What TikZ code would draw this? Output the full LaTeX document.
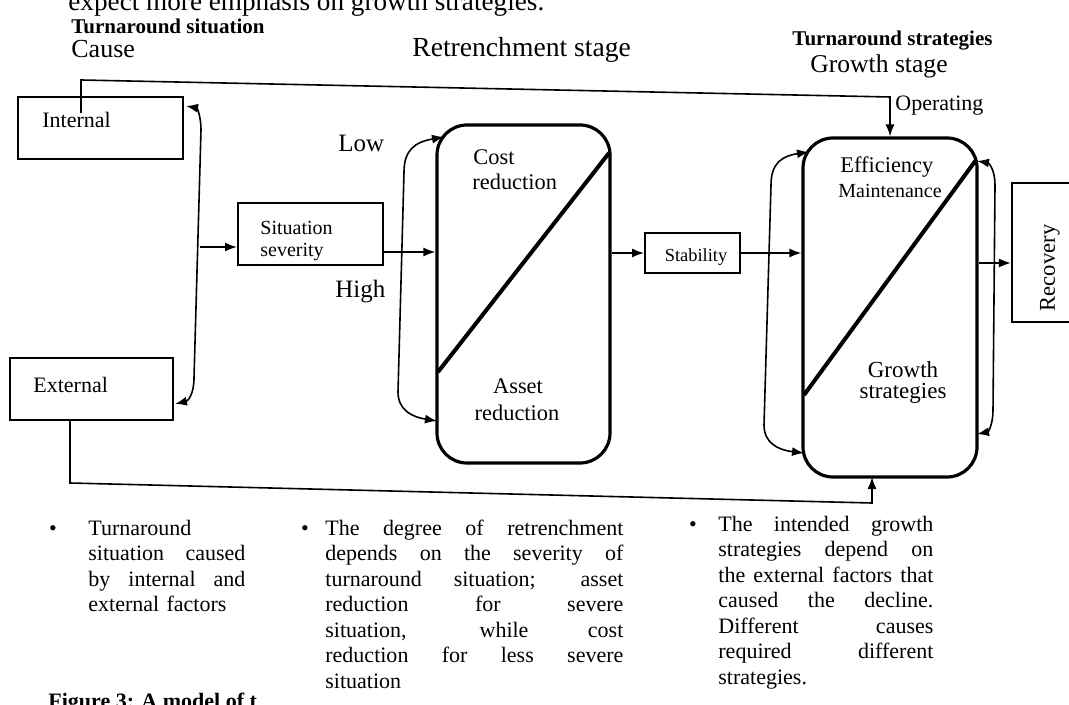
\documentclass[tikz,border=0pt]{standalone}
\usepackage{fontspec}
\setmainfont{Liberation Serif}
\usetikzlibrary{arrows.meta}
\newcommand\jline[1]{{\spaceskip=0pt\xspaceskip=0pt\makebox[\hsize][s]{#1}}}
\begin{document}
\begin{tikzpicture}[x=0.5pt,y=-0.5pt,
  box/.style={draw, line width=0.8pt, inner sep=0pt},
  rbox/.style={draw, line width=1.6pt, rounded corners=15pt, inner sep=0pt},
  lbl/.style={inner sep=0pt, anchor=base west},
  clbl/.style={inner sep=0pt, anchor=base},
  fmid/.style={font=\fontsize{11.2}{13}\selectfont},
  fhead/.style={font=\bfseries\fontsize{10.5}{12}\selectfont},
  para/.style={inner sep=0pt, anchor=base west, align=left, font=\fontsize{11}{12.75}\selectfont},
  conn/.style={line width=0.8pt},
  arr/.style={conn, -{Latex[length=6pt,width=4.5pt]}},
  darr/.style={conn, {Latex[length=6pt,width=4.5pt]}-{Latex[length=6pt,width=4.5pt]}},
  diag/.style={line width=2pt}]
\useasboundingbox (0,0) rectangle (1069,705);
\clip (0,0) rectangle (1069,705);

% header texts
\node[lbl, font=\fontsize{13.6}{15}\selectfont] (intro) at (68,11) {expect more emphasis on growth strategies.};
\node[lbl, fhead] (tsit) at (71,34) {Turnaround situation};
\node[lbl, font=\fontsize{13}{15}\selectfont] (cause) at (71,58) {Cause};
\node[lbl, font=\fontsize{13.8}{15}\selectfont] (retst) at (412,57) {Retrenchment stage};
\node[lbl, fhead] (tstr) at (792,46) {Turnaround strategies};
\node[lbl, font=\fontsize{12.8}{15}\selectfont] (grst) at (810,73) {Growth stage};
\node[lbl, font=\fontsize{11}{13}\selectfont] (oper) at (895,111) {Operating};
\node[lbl, font=\fontsize{12.5}{14}\selectfont] (low) at (338,152) {Low};
\node[lbl, font=\fontsize{12.5}{14}\selectfont] (high) at (335,298) {High};

% boxes
\node[box, minimum width=82.5pt, minimum height=31pt] (int) at (100.5,128) {};
\node[box, line width=1.1pt, minimum width=81.5pt, minimum height=31pt] (ext) at (91.5,389) {};
\node[box, line width=1pt, minimum width=72.5pt, minimum height=31pt] (sit) at (310.5,234) {};
\node[rbox, minimum width=86.5pt, minimum height=169pt] (ret) at (523.5,294) {};
\node[box, line width=1pt, minimum width=47.5pt, minimum height=20pt] (stab) at (692.5,253) {};
\node[rbox, minimum width=87pt, minimum height=169.5pt] (gro) at (890,307.5) {};
\node[box, line width=1.1pt, minimum width=44pt, minimum height=69.5pt] (rec) at (1056,252.5) {};

% box texts
\node[lbl, font=\fontsize{11}{13}\selectfont] (tint) at (42,128) {Internal};
\node[lbl, font=\fontsize{11}{13}\selectfont] (text) at (33,392) {External};
\node[lbl, font=\fontsize{10}{12}\selectfont] (tsit1) at (260,235) {Situation};
\node[lbl, font=\fontsize{10}{12}\selectfont] (tsit2) at (260,257) {severity};
\node[lbl, fmid] (cost1) at (473,165) {Cost};
\node[lbl, fmid] (cost2) at (472,190) {reduction};
\node[clbl, fmid] (ass1) at (518,393) {Asset};
\node[clbl, fmid] (ass2) at (517,420) {reduction};
\node[clbl, font=\fontsize{9.2}{11}\selectfont] (tstab) at (696,262) {Stability};
\node[lbl, font=\fontsize{11.2}{13}\selectfont] (eff1) at (840,173) {Efficiency};
\node[lbl, font=\fontsize{10}{12}\selectfont] (eff2) at (838,198) {Maintenance};
\node[clbl, font=\fontsize{11.5}{13}\selectfont] (gs1) at (903,377) {Growth};
\node[clbl, font=\fontsize{11.5}{13}\selectfont] (gs2) at (903,398) {strategies};
\node[inner sep=0pt, rotate=90, font=\fontsize{11.3}{13}\selectfont] (trec) at (1050,268) {Recovery};

% diagonals
\draw[diag] (438,372) -- (609,153);
\draw[diag] (804,395) -- (976,160);

% connectors
\coordinate (c1) at (81,113);
\draw[arr] (c1) -- (81,80) -- (890,97) -- (gro.north);
\coordinate (c2) at (70,420);
\draw[arr] (c2) -- (70,483) -- (872,503) -- (872,477);
\draw[darr] (186,106) .. controls (197,108) and (201,116) .. (201,130) -- (194,378) .. controls (194,394) and (188,401) .. (175,404);
\draw[arr] (200,247) -- (sit.west |- 0,247);
\draw[arr] (sit.east |- 0,252) -- (ret.west |- 0,252);
\draw[darr] (444,137) .. controls (415,142) and (404,150) .. (404,172) -- (398,392) .. controls (398,410) and (412,417) .. (437,421);
\draw[arr] (ret.east |- stab.west) -- (stab.west);
\draw[arr] (stab.east) -- (gro.west |- stab.east);
\draw[darr] (809,152) .. controls (782,156) and (771,163) .. (771,185) -- (764,425) .. controls (764,443) and (778,450) .. (804,453);
\draw[darr] (977,161) .. controls (989,163) and (995,170) .. (995,185) -- (993,410) .. controls (993,425) and (988,432) .. (977,434);
\draw[arr] (gro.east |- 0,263) -- (rec.west |- 0,263);

% bottom texts
\node[clbl, font=\fontsize{11}{13}\selectfont] (b1) at (53,535) {\textbullet};
\node[clbl, font=\fontsize{11}{13}\selectfont] (b2) at (305,535) {\textbullet};
\node[clbl, font=\fontsize{11}{13}\selectfont] (b3) at (693,531) {\textbullet};
\node[para, text width=78.5pt] (p1) at (88,535) {Turnaround\\ \jline{situation caused}\\ \jline{by internal and}\\ external factors};
\node[para, text width=149pt] (p2) at (325,535) {\jline{The degree of retrenchment}\\ \jline{depends on the severity of}\\ \jline{turnaround situation; asset}\\ \jline{reduction for severe}\\ \jline{situation, while cost}\\ \jline{reduction for less severe}\\ situation};
\node[para, text width=107.5pt] (p3) at (718,531) {\jline{The intended growth}\\ \jline{strategies depend on}\\ \jline{the external factors that}\\ \jline{caused the decline.}\\ \jline{Different causes}\\ \jline{required different}\\ strategies.};
\node[lbl, font=\bfseries\fontsize{11}{13}\selectfont] (fig) at (48,708) {Figure 3: A model of t};
\end{tikzpicture}
\end{document}
